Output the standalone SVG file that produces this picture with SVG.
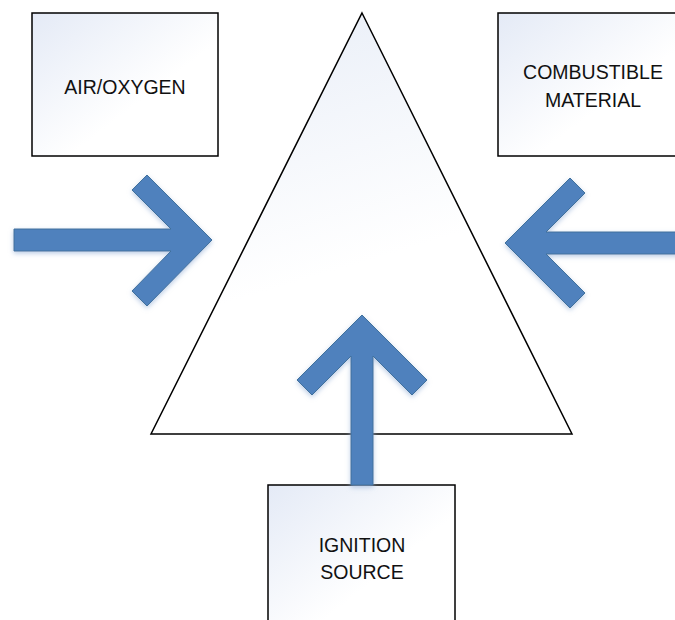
<svg xmlns="http://www.w3.org/2000/svg" width="675" height="620" viewBox="0 0 675 620">
<defs>
<linearGradient id="boxGrad" x1="0" y1="0" x2="1" y2="1">
<stop offset="0" stop-color="#E4EAF6"/>
<stop offset="0.6" stop-color="#FFFFFF"/>
<stop offset="1" stop-color="#FFFFFF"/>
</linearGradient>
<linearGradient id="triGrad" x1="0.3" y1="0" x2="0.6" y2="1">
<stop offset="0" stop-color="#EAEFF8"/>
<stop offset="0.6" stop-color="#FFFFFF"/>
<stop offset="1" stop-color="#FFFFFF"/>
</linearGradient>
<filter id="glow" x="-20%" y="-20%" width="140%" height="140%">
<feGaussianBlur in="SourceAlpha" stdDeviation="2.5"/>
<feOffset dx="0" dy="2" result="b"/>
<feFlood flood-color="#9DB6DA" flood-opacity="0.7"/>
<feComposite in2="b" operator="in"/>
<feMerge><feMergeNode/><feMergeNode in="SourceGraphic"/></feMerge>
</filter>
</defs>
<style>
.box{fill:url(#boxGrad);stroke:#000;stroke-width:1.5}
.tri{fill:url(#triGrad);stroke:#000;stroke-width:1.5;stroke-linejoin:miter}
.arrow{fill:#4F81BD;stroke:#41719C;stroke-width:1;filter:url(#glow)}
.lbl{font-family:"Liberation Sans",Arial,sans-serif;font-size:19.5px;fill:#111;text-anchor:middle}
</style>
<rect width="675" height="620" fill="#FFFFFF"/>
<g id="triangle">
<polygon class="tri" points="362,13 572,434 151,434"/>
</g>
<g id="air-oxygen">
<rect class="box" x="32" y="13" width="186" height="143"/>
<text class="lbl" x="125" y="94">AIR/OXYGEN</text>
</g>
<g id="combustible-material">
<rect class="box" x="498" y="13" width="190" height="143"/>
<text class="lbl" x="593" y="79">COMBUSTIBLE</text>
<text class="lbl" x="593" y="107">MATERIAL</text>
</g>
<g id="ignition-source">
<rect class="box" x="268" y="485" width="187" height="150"/>
<text class="lbl" x="362" y="552">IGNITION</text>
<text class="lbl" x="362" y="579">SOURCE</text>
</g>
<g id="connectors">
<polygon class="arrow" points="212,240 147,306 132,291 171,251 14,251 14,229 171,229 132,190 147,175"/>
<polygon class="arrow" points="505,243 570,178 585,193 546,232 690,232 690,254 546,254 585,293 570,308"/>
<polygon class="arrow" points="362,315 427,380 412,395 373,356 373,485 351,485 351,356 312,395 297,380"/>
</g>
</svg>
